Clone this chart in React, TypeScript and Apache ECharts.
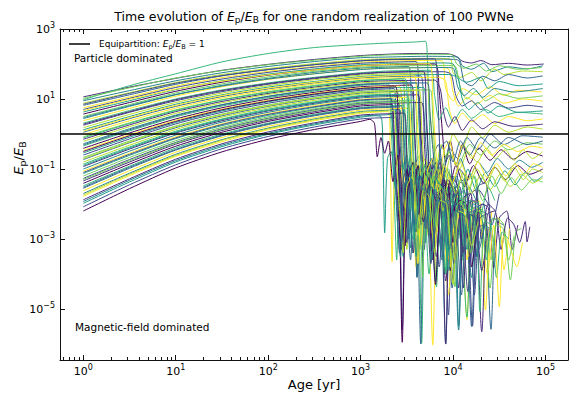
import React, { useEffect, useRef } from "react";
import * as echarts from "echarts";

// All values are log10 values.
// Age grid (log10 yr) shared by the early, smooth part of every track.
const LOG_AGE_GRID = [0, 0.5, 1, 1.5, 2, 2.5, 3];

// log10(Ep/EB) at LOG_AGE_GRID for each PWN
const EARLY_LOG_RATIO = [
  [1.06, 1.34, 1.59, 1.82, 1.99, 2.13, 2.24],
  [0.98, 1.38, 1.72, 2.06, 2.3, 2.47, 2.56],
  [0.95, 1.24, 1.52, 1.75, 1.93, 2.07, 2.18],
  [0.88, 1.18, 1.47, 1.7, 1.87, 2.01, 2.12],
  [0.82, 1.12, 1.42, 1.66, 1.84, 1.98, 2.09],
  [0.75, 1.06, 1.37, 1.61, 1.79, 1.93, 2.05],
  [0.7, 1.02, 1.33, 1.57, 1.76, 1.91, 2.02],
  [0.63, 0.95, 1.27, 1.52, 1.71, 1.86, 1.98],
  [0.57, 0.9, 1.22, 1.48, 1.68, 1.83, 1.95],
  [0.5, 0.84, 1.17, 1.43, 1.63, 1.79, 1.91],
  [0.44, 0.79, 1.12, 1.39, 1.59, 1.76, 1.88],
  [0.38, 0.73, 1.08, 1.35, 1.56, 1.72, 1.85],
  [0.31, 0.67, 1.0, 1.26, 1.46, 1.62, 1.75],
  [0.25, 0.62, 0.95, 1.21, 1.42, 1.58, 1.71],
  [0.18, 0.56, 0.9, 1.17, 1.38, 1.55, 1.68],
  [0.12, 0.5, 0.85, 1.12, 1.34, 1.5, 1.64],
  [0.05, 0.44, 0.79, 1.07, 1.29, 1.46, 1.6],
  [-0.02, 0.38, 0.74, 1.03, 1.25, 1.43, 1.57],
  [-0.08, 0.32, 0.69, 0.98, 1.21, 1.39, 1.53],
  [-0.15, 0.26, 0.64, 0.93, 1.16, 1.34, 1.49],
  [-0.21, 0.21, 0.59, 0.89, 1.13, 1.31, 1.46],
  [-0.28, 0.15, 0.54, 0.84, 1.08, 1.27, 1.42],
  [-0.34, 0.09, 0.49, 0.8, 1.04, 1.23, 1.39],
  [-0.41, 0.03, 0.43, 0.75, 1.0, 1.19, 1.35],
  [-0.47, -0.02, 0.39, 0.71, 0.96, 1.16, 1.32],
  [-0.54, -0.09, 0.33, 0.66, 0.92, 1.12, 1.28],
  [-0.6, -0.14, 0.29, 0.62, 0.88, 1.08, 1.25],
  [-0.67, -0.2, 0.23, 0.57, 0.83, 1.04, 1.21],
  [-0.73, -0.25, 0.18, 0.52, 0.79, 1.0, 1.17],
  [-0.8, -0.32, 0.13, 0.48, 0.75, 0.96, 1.14],
  [-0.86, -0.37, 0.08, 0.43, 0.71, 0.92, 1.1],
  [-0.93, -0.43, 0.03, 0.38, 0.66, 0.88, 1.06],
  [-1.0, -0.49, -0.03, 0.34, 0.62, 0.85, 1.03],
  [-1.06, -0.55, -0.08, 0.29, 0.58, 0.81, 0.99],
  [-1.13, -0.61, -0.13, 0.24, 0.53, 0.76, 0.95],
  [-1.2, -0.67, -0.19, 0.19, 0.49, 0.72, 0.91],
  [-1.27, -0.73, -0.24, 0.15, 0.45, 0.69, 0.88],
  [-1.34, -0.8, -0.29, 0.1, 0.4, 0.64, 0.84],
  [-1.41, -0.86, -0.35, 0.05, 0.36, 0.6, 0.8],
  [-1.48, -0.92, -0.4, 0.0, 0.31, 0.56, 0.76],
  [-1.55, -0.98, -0.46, -0.05, 0.27, 0.52, 0.72],
  [-1.62, -1.05, -0.52, -0.1, 0.22, 0.47, 0.68],
  [-1.7, -1.12, -0.58, -0.16, 0.17, 0.43, 0.64],
  [-1.78, -1.19, -0.64, -0.22, 0.12, 0.38, 0.59],
  [-1.88, -1.28, -0.72, -0.28, 0.06, 0.32, 0.54],
  [-1.98, -1.37, -0.8, -0.36, -0.01, 0.26, 0.48],
  [-2.08, -1.45, -0.88, -0.42, -0.07, 0.2, 0.43],
  [-2.2, -1.56, -0.97, -0.51, -0.15, 0.13, 0.36],
  [1.02, 1.32, 1.6, 1.81, 1.98, 2.11, 2.22],
  [0.85, 1.16, 1.45, 1.67, 1.84, 1.98, 2.09],
  [0.67, 0.99, 1.28, 1.51, 1.69, 1.83, 1.95],
  [0.47, 0.81, 1.13, 1.37, 1.57, 1.72, 1.84],
  [0.28, 0.64, 0.98, 1.24, 1.44, 1.6, 1.73],
  [0.08, 0.47, 0.82, 1.1, 1.31, 1.48, 1.62],
  [-0.11, 0.3, 0.67, 0.97, 1.19, 1.37, 1.52],
  [-0.31, 0.12, 0.52, 0.83, 1.07, 1.26, 1.41],
  [-0.5, -0.05, 0.36, 0.69, 0.94, 1.14, 1.3],
  [-0.7, -0.23, 0.21, 0.55, 0.81, 1.02, 1.19],
  [-0.9, -0.4, 0.05, 0.41, 0.68, 0.9, 1.08],
  [-1.1, -0.58, -0.11, 0.27, 0.56, 0.78, 0.97],
  [-1.3, -0.76, -0.26, 0.13, 0.43, 0.67, 0.86],
  [-1.52, -0.95, -0.44, -0.03, 0.29, 0.54, 0.74],
  [-1.74, -1.15, -0.61, -0.18, 0.15, 0.41, 0.62],
  [-1.93, -1.32, -0.76, -0.32, 0.02, 0.29, 0.51],
];

// late part of each track: [log10 age, log10 ratio]
const LATE_TRACKS = [
  [[3.3,2.28],[3.6,2.3],[3.95,2.29],[4.03,2.22],[4.1,2.08],[4.2,2.03],[4.3,2.1],[4.42,1.98],[4.6,2.02],[4.8,1.97],[4.98,2.0]],
  [[3.3,2.6],[3.6,2.63],[3.7,2.65],[3.72,2.3],[3.74,0.6],[3.76,-1.2],[3.78,-2.6],[3.81,-1.0],[3.86,-0.7],[3.9,-1.9],[3.95,-1.1],[4.02,-1.5],[4.08,-3.0],[4.13,-1.3],[4.22,-1.2],[4.3,-2.3],[4.38,-1.5],[4.45,-1.9]],
  [[3.3,2.2],[3.7,2.22],[4.05,2.2],[4.1,1.95],[4.2,1.85],[4.33,2.02],[4.42,1.78],[4.6,1.92],[4.8,1.86],[4.97,1.95]],
  [[3.3,2.15],[3.8,2.16],[3.97,2.14],[4.0,1.75],[4.08,1.62],[4.2,1.76],[4.3,1.52],[4.45,1.85],[4.55,1.7],[4.75,1.8],[4.97,1.78]],
  [[3.3,2.12],[3.8,2.14],[4.05,2.12],[4.12,1.5],[4.2,1.38],[4.32,1.65],[4.45,1.52],[4.6,1.7],[4.8,1.6],[4.97,1.66]],
  [[3.3,2.08],[3.7,2.1],[3.88,2.09],[3.92,1.3],[4.0,0.95],[4.1,1.3],[4.25,1.12],[4.4,1.35],[4.55,1.1],[4.7,1.25],[4.96,1.2]],
  [[3.3,2.05],[3.6,2.07],[3.63,1.0],[3.66,-1.0],[3.69,-3.3],[3.72,-1.2],[3.77,-0.7],[3.82,-2.6],[3.86,-1.1],[3.93,-1.6],[4.0,-4.2],[4.05,-1.5],[4.12,-1.3],[4.2,-2.8],[4.28,-1.6],[4.4,-2.1]],
  [[3.3,2.01],[3.9,2.03],[4.0,2.0],[4.06,1.6],[4.15,1.48],[4.3,1.62],[4.38,1.3],[4.5,1.5],[4.7,1.38],[4.97,1.43]],
  [[3.3,1.98],[3.8,2.0],[3.85,1.2],[3.88,0.2],[3.92,-0.8],[3.97,-0.2],[4.03,-0.9],[4.1,-0.3],[4.18,-0.85],[4.28,-0.4],[4.4,-0.75],[4.52,-0.45],[4.65,-0.72],[4.8,-0.5],[4.97,-0.63]],
  [[3.3,1.94],[3.9,1.96],[4.02,1.94],[4.08,1.3],[4.15,1.0],[4.25,1.22],[4.35,0.95],[4.5,1.15],[4.7,1.02],[4.97,1.09]],
  [[3.3,1.91],[3.52,1.93],[3.55,0.5],[3.58,-1.5],[3.61,-4.08],[3.64,-1.3],[3.7,-0.85],[3.75,-2.2],[3.8,-1.2],[3.86,-1.4],[3.92,-6.0],[3.97,-1.6],[4.04,-1.2],[4.1,-2.4],[4.17,-1.5],[4.25,-1.9]],
  [[3.3,1.88],[3.85,1.9],[3.95,1.86],[4.0,1.2],[4.06,0.8],[4.15,1.05],[4.25,0.85],[4.4,1.1],[4.55,0.88],[4.75,1.0],[4.97,0.94]],
  [[3.3,1.8],[3.75,1.82],[3.8,1.1],[3.85,0.4],[3.92,0.75],[4.0,0.35],[4.1,0.7],[4.2,0.45],[4.35,0.7],[4.5,0.5],[4.7,0.62],[4.97,0.57]],
  [[3.3,1.76],[3.9,1.78],[3.98,1.7],[4.03,1.1],[4.1,0.8],[4.2,0.95],[4.3,0.7],[4.45,0.9],[4.6,0.74],[4.8,0.82],[4.97,0.77]],
  [[3.3,1.72],[3.7,1.74],[3.74,0.9],[3.78,-0.2],[3.82,-0.9],[3.87,-0.3],[3.93,-0.7],[4.0,0.0],[4.1,-0.4],[4.2,0.2],[4.32,-0.1],[4.45,0.25],[4.6,0.05],[4.8,0.2],[4.97,0.14]],
  [[3.3,1.68],[3.95,1.7],[4.05,1.6],[4.1,1.0],[4.17,0.7],[4.27,0.9],[4.38,0.6],[4.5,0.8],[4.7,0.62],[4.97,0.66]],
  [[3.3,1.64],[3.65,1.66],[3.68,0.8],[3.71,-0.5],[3.75,-1.6],[3.79,-0.6],[3.84,-0.3],[3.9,-1.1],[3.96,-0.4],[4.05,-0.7],[4.15,-0.1],[4.27,-0.45],[4.4,0.0],[4.55,-0.3],[4.75,-0.05],[4.97,-0.09]],
  [[3.3,1.6],[3.85,1.62],[3.92,1.5],[3.96,0.7],[4.02,0.3],[4.1,0.6],[4.2,0.35],[4.32,0.55],[4.45,0.3],[4.6,0.5],[4.8,0.38],[4.97,0.43]],
  [[3.3,1.56],[3.45,1.58],[3.48,0.5],[3.51,-0.8],[3.55,-2.1],[3.59,-0.9],[3.64,-0.6],[3.7,-1.5],[3.77,-0.8],[3.85,-1.2],[3.95,-0.5],[4.05,-0.9],[4.18,-0.3],[4.3,-0.6],[4.45,-0.2],[4.6,-0.45],[4.8,-0.25],[4.97,-0.29]],
  [[3.3,1.52],[3.8,1.54],[3.86,1.3],[3.9,0.6],[3.95,0.2],[4.02,0.5],[4.1,0.1],[4.2,0.4],[4.32,0.15],[4.45,0.35],[4.65,0.22],[4.97,0.28]],
  [[3.3,1.49],[3.5,1.5],[3.53,0.3],[3.56,-1.0],[3.6,-2.8],[3.64,-1.1],[3.7,-0.7],[3.76,-1.8],[3.83,-0.9],[3.9,-1.3],[3.98,-0.6],[4.07,-1.0],[4.16,-0.5],[4.26,-0.8],[4.36,-0.4],[4.46,-0.7],[4.56,-0.45],[4.66,-0.75],[4.76,-0.45],[4.86,-0.7],[4.97,-0.5]],
  [[3.3,1.45],[3.6,1.46],[3.63,0.4],[3.66,-1.2],[3.7,-3.1],[3.74,-1.3],[3.8,-0.9],[3.86,-2.0],[3.93,-1.0],[4.0,-1.4],[4.08,-0.7],[4.17,-1.3],[4.27,-0.8],[4.37,-1.1],[4.48,-0.7],[4.6,-1.0],[4.72,-0.75],[4.85,-0.95],[4.97,-0.81]],
  [[3.2,1.42],[3.3,1.43],[3.33,0.2],[3.36,-1.5],[3.39,-3.6],[3.42,-1.3],[3.47,-0.8],[3.52,-2.3],[3.57,-1.1],[3.62,-1.5],[3.66,-5.98],[3.7,-1.7],[3.76,-1.3],[3.82,-4.37],[3.87,-1.6],[3.94,-1.4],[4.0,-2.9],[4.06,-1.8],[4.12,-2.2]],
  [[3.3,1.38],[3.55,1.4],[3.58,0.3],[3.61,-1.3],[3.65,-2.6],[3.69,-1.2],[3.75,-0.8],[3.81,-2.2],[3.88,-1.1],[3.95,-1.6],[4.03,-0.9],[4.12,-1.5],[4.22,-0.9],[4.33,-1.4],[4.45,-0.95],[4.57,-1.3],[4.7,-0.9],[4.83,-1.15],[4.97,-1.0]],
  [[3.3,1.36],[3.42,1.37],[3.45,0.1],[3.48,-1.4],[3.51,-2.9],[3.55,-1.2],[3.6,-0.8],[3.66,-2.4],[3.72,-1.3],[3.78,-6.03],[3.83,-1.6],[3.9,-1.2],[3.96,-3.0],[4.02,-1.7],[4.08,-2.0],[4.15,-5.3],[4.2,-2.0],[4.28,-1.9],[4.35,-3.4],[4.42,-2.2]],
  [[3.3,1.32],[3.68,1.33],[3.71,0.3],[3.74,-1.0],[3.78,-2.3],[3.82,-1.1],[3.88,-0.9],[3.94,-2.0],[4.01,-1.2],[4.08,-1.7],[4.16,-1.0],[4.25,-1.6],[4.35,-1.1],[4.45,-1.5],[4.56,-1.05],[4.67,-1.45],[4.78,-1.1],[4.88,-1.35],[4.97,-1.2]],
  [[3.3,1.29],[3.36,1.3],[3.39,0.2],[3.42,-1.3],[3.45,-5.6],[3.49,-1.2],[3.54,-0.7],[3.6,-2.0],[3.66,-1.0],[3.72,-1.5],[3.78,-3.1],[3.84,-1.3],[3.9,-1.6],[3.95,-5.17],[4.0,-1.9],[4.07,-1.5],[4.13,-2.7],[4.2,-1.8]],
  [[3.3,1.25],[3.75,1.26],[3.78,0.4],[3.81,-0.9],[3.85,-2.5],[3.89,-1.0],[3.95,-1.0],[4.01,-2.2],[4.08,-1.3],[4.15,-1.8],[4.23,-1.2],[4.32,-1.9],[4.42,-1.2],[4.52,-1.7],[4.63,-1.25],[4.74,-1.6],[4.86,-1.3],[4.97,-1.37]],
  [[3.3,1.21],[3.55,1.23],[3.58,0.0],[3.61,-1.6],[3.65,-6.0],[3.69,-1.4],[3.75,-1.0],[3.81,-2.5],[3.87,-1.3],[3.93,-1.8],[3.99,-4.4],[4.05,-1.9],[4.12,-1.6],[4.2,-5.5],[4.26,-2.1],[4.33,-2.0],[4.41,-5.58],[4.47,-2.5],[4.55,-2.6]],
  [[3.3,1.18],[3.4,1.2],[3.43,0.0],[3.46,-1.3],[3.5,-3.3],[3.54,-1.2],[3.6,-0.9],[3.66,-2.1],[3.73,-1.1],[3.8,-1.6],[3.88,-0.9],[3.97,-1.5],[4.06,-1.0],[4.16,-1.6],[4.26,-1.0],[4.36,-1.4],[4.46,-0.95],[4.56,-1.35],[4.66,-0.95],[4.76,-1.3],[4.86,-1.0],[4.97,-1.1]],
  [[3.3,1.14],[3.32,1.15],[3.35,0.0],[3.38,-1.4],[3.41,-3.0],[3.45,-1.1],[3.5,-0.6],[3.56,-2.2],[3.62,-1.0],[3.68,-1.4],[3.74,-4.0],[3.8,-1.5],[3.87,-1.2],[3.93,-3.4],[4.0,-1.7],[4.07,-2.0],[4.15,-5.23],[4.21,-2.3],[4.3,-2.1]],
  [[3.3,1.1],[3.62,1.12],[3.65,0.1],[3.68,-1.2],[3.72,-2.7],[3.76,-1.1],[3.82,-0.8],[3.88,-2.3],[3.94,-1.3],[4.0,-1.6],[4.06,-4.4],[4.12,-1.8],[4.19,-1.7],[4.25,-3.5],[4.31,-2.0],[4.38,-2.1],[4.44,-3.82],[4.5,-2.4],[4.58,-2.2],[4.64,-3.3],[4.7,-2.6]],
  [[3.3,1.07],[3.44,1.08],[3.47,-0.1],[3.5,-1.5],[3.54,-3.25],[3.58,-1.2],[3.63,-0.9],[3.69,-2.3],[3.75,-1.2],[3.82,-1.5],[3.88,-3.6],[3.94,-1.6],[4.01,-1.5],[4.06,-5.49],[4.11,-2.0],[4.18,-1.9],[4.24,-3.2],[4.3,-2.2],[4.38,-2.3]],
  [[3.3,1.03],[3.5,1.05],[3.53,-0.2],[3.56,-1.6],[3.6,-3.8],[3.64,-1.3],[3.7,-0.9],[3.76,-2.7],[3.82,-1.4],[3.88,-1.7],[3.95,-4.6],[4.01,-1.9],[4.08,-1.7],[4.15,-3.6],[4.22,-2.1],[4.29,-2.2],[4.35,-5.03],[4.41,-2.5],[4.49,-2.4],[4.55,-3.88],[4.61,-2.7]],
  [[3.3,0.99],[3.36,1.0],[3.39,-0.3],[3.42,-1.7],[3.46,-3.5],[3.5,-1.3],[3.56,-0.8],[3.62,-2.4],[3.68,-1.1],[3.74,-1.4],[3.81,-4.2],[3.87,-1.6],[3.93,-1.5],[4.0,-3.0],[4.06,-1.8],[4.13,-2.0],[4.2,-4.1],[4.27,-2.2],[4.34,-2.4]],
  [[3.3,0.95],[3.58,0.97],[3.61,-0.3],[3.64,-1.7],[3.67,-4.08],[3.71,-1.4],[3.77,-1.0],[3.83,-2.6],[3.89,-1.5],[3.96,-1.8],[4.02,-4.37],[4.08,-2.0],[4.15,-1.8],[4.22,-3.3],[4.28,-2.1],[4.35,-2.3],[4.41,-3.6],[4.48,-2.4],[4.55,-2.6],[4.62,-4.17],[4.68,-2.8],[4.74,-2.7]],
  [[3.3,0.92],[3.4,0.93],[3.43,-0.4],[3.46,-1.8],[3.5,-3.1],[3.54,-1.3],[3.6,-1.0],[3.66,-2.6],[3.72,-1.4],[3.79,-1.7],[3.85,-3.8],[3.91,-1.8],[3.98,-1.7],[4.04,-3.2],[4.1,-2.0],[4.17,-2.2],[4.23,-4.6],[4.29,-2.4],[4.36,-2.3]],
  [[3.3,0.88],[3.66,0.9],[3.69,-0.3],[3.72,-1.6],[3.76,-3.0],[3.8,-1.4],[3.86,-1.1],[3.92,-6.0],[3.97,-1.7],[4.04,-1.5],[4.1,-3.5],[4.16,-2.0],[4.23,-1.9],[4.31,-5.65],[4.37,-2.3],[4.45,-2.2],[4.52,-3.3],[4.59,-2.4],[4.66,-2.6],[4.72,-3.1],[4.78,-2.5],[4.8,-3.08],[4.83,-2.65]],
  [[3.3,0.84],[3.34,0.85],[3.37,-0.5],[3.4,-1.9],[3.44,-3.3],[3.48,-1.4],[3.54,-1.1],[3.6,-2.8],[3.66,-1.3],[3.72,-1.6],[3.78,-3.6],[3.84,-1.7],[3.91,-1.9],[3.97,-3.9],[4.03,-2.0],[4.1,-2.1],[4.17,-3.0],[4.24,-2.3]],
  [[3.3,0.8],[3.46,0.82],[3.49,-0.5],[3.52,-1.8],[3.56,-3.4],[3.6,-1.4],[3.66,-1.1],[3.72,-2.5],[3.78,-1.5],[3.85,-1.8],[3.91,-4.0],[3.97,-2.0],[4.04,-1.9],[4.1,-3.6],[4.17,-2.2],[4.24,-2.1],[4.29,-5.07],[4.34,-2.5],[4.41,-2.6],[4.47,-4.1],[4.53,-2.8],[4.6,-3.0]],
  [[3.3,0.76],[3.38,0.77],[3.41,-0.6],[3.44,-2.0],[3.47,-3.25],[3.51,-1.5],[3.57,-1.2],[3.61,-4.1],[3.66,-1.7],[3.73,-1.5],[3.79,-3.0],[3.85,-1.9],[3.92,-2.0],[3.98,-3.4],[4.04,-2.2],[4.12,-2.3]],
  [[3.3,0.72],[3.52,0.74],[3.55,-0.6],[3.58,-2.0],[3.62,-3.7],[3.66,-1.6],[3.72,-1.2],[3.78,-2.9],[3.84,-1.6],[3.9,-1.9],[3.97,-3.8],[4.03,-2.1],[4.1,-2.0],[4.17,-3.5],[4.23,-2.3],[4.3,-2.4],[4.37,-4.0],[4.44,-2.6],[4.5,-4.94],[4.55,-2.9],[4.6,-3.1],[4.69,-3.79],[4.75,-3.1]],
  [[3.3,0.68],[3.42,0.7],[3.45,-0.7],[3.48,-2.0],[3.52,-3.0],[3.56,-1.5],[3.62,-1.2],[3.68,-2.6],[3.74,-1.5],[3.8,-1.8],[3.87,-3.3],[3.93,-2.0],[4.0,-2.1],[4.06,-5.6],[4.12,-2.4],[4.2,-2.3],[4.26,-3.5],[4.33,-2.6],[4.4,-2.7]],
  [[3.2,0.63],[3.3,0.64],[3.32,-0.5],[3.34,-3.65],[3.37,-1.0],[3.42,-0.7],[3.48,-2.1],[3.54,-1.2],[3.6,-1.5],[3.65,-3.2],[3.71,-1.5],[3.77,-1.4],[3.83,-2.8],[3.89,-1.7],[3.96,-1.9],[4.02,-3.6],[4.08,-2.1],[4.15,-2.2]],
  [[3.3,0.58],[3.47,0.6],[3.5,-0.7],[3.53,-2.1],[3.57,-3.4],[3.61,-1.6],[3.67,-1.3],[3.73,-2.8],[3.79,-1.6],[3.86,-1.9],[3.92,-4.2],[3.98,-2.1],[4.05,-2.0],[4.11,-3.4],[4.18,-2.3],[4.24,-2.4],[4.31,-3.9],[4.38,-2.7]],
  [[3.15,0.52],[3.22,0.5],[3.24,-0.3],[3.26,-2.82],[3.29,-0.7],[3.33,-0.5],[3.38,-1.6],[3.44,-0.9],[3.5,-1.2],[3.56,-3.0],[3.62,-1.4],[3.68,-1.3],[3.74,-2.7],[3.8,-1.6],[3.87,-1.8],[3.94,-3.5],[4.0,-2.0],[4.07,-2.1]],
  [[3.3,0.47],[3.38,0.48],[3.41,-0.8],[3.44,-2.2],[3.47,-3.25],[3.51,-1.6],[3.57,-1.3],[3.63,-2.7],[3.69,-1.6],[3.76,-1.9],[3.82,-3.5],[3.88,-2.0],[3.95,-2.1],[4.01,-3.7],[4.08,-2.3],[4.15,-2.4],[4.21,-5.49],[4.26,-2.7],[4.33,-2.6]],
  [[3.1,0.42],[3.15,0.3],[3.18,-0.65],[3.22,-0.1],[3.26,-0.55],[3.3,-0.2],[3.35,-1.36],[3.4,-0.6],[3.45,-5.95],[3.5,-1.0],[3.56,-1.8],[3.62,-0.9],[3.68,-2.5],[3.75,-1.4],[3.82,-1.9],[3.9,-1.3],[3.97,-2.4],[4.05,-1.6]],
  [[3.3,2.26],[3.7,2.28],[3.98,2.27],[4.04,2.0],[4.12,1.88],[4.25,2.0],[4.36,1.8],[4.5,1.95],[4.7,1.85],[4.96,1.9]],
  [[3.3,2.13],[3.8,2.15],[3.83,1.4],[3.85,0.0],[3.88,-2.2],[3.91,-0.9],[3.96,-0.6],[4.01,-1.8],[4.07,-1.0],[4.14,-1.3],[4.2,-3.4],[4.27,-1.5],[4.35,-1.4],[4.42,-2.6],[4.5,-1.7]],
  [[3.3,1.99],[3.75,2.01],[3.78,1.0],[3.81,-0.3],[3.85,-1.4],[3.9,-0.5],[3.96,-0.2],[4.03,-0.9],[4.11,-0.3],[4.2,-0.7],[4.3,-0.25],[4.42,-0.6],[4.55,-0.3],[4.7,-0.5],[4.85,-0.35],[4.97,-0.4]],
  [[3.3,1.88],[3.9,1.9],[4.0,1.88],[4.05,1.35],[4.12,1.1],[4.22,1.3],[4.32,1.05],[4.45,1.3],[4.65,1.2],[4.97,1.3]],
  [[3.3,1.77],[3.68,1.79],[3.71,0.6],[3.74,-1.0],[3.77,-3.3],[3.81,-1.2],[3.86,-0.8],[3.92,-2.4],[3.98,-1.2],[4.05,-1.5],[4.11,-4.4],[4.17,-1.8],[4.24,-1.6],[4.31,-3.0],[4.38,-2.0],[4.46,-2.2]],
  [[3.3,1.66],[3.58,1.68],[3.61,0.5],[3.64,-0.9],[3.68,-2.4],[3.72,-1.1],[3.78,-0.7],[3.84,-1.7],[3.91,-0.9],[3.99,-1.4],[4.08,-0.8],[4.17,-1.3],[4.27,-0.8],[4.37,-1.25],[4.47,-0.85],[4.57,-1.2],[4.67,-0.85],[4.77,-1.15],[4.87,-0.85],[4.97,-0.95]],
  [[3.3,1.56],[3.48,1.58],[3.51,0.2],[3.54,-1.3],[3.58,-3.0],[3.62,-1.2],[3.67,-0.8],[3.73,-2.5],[3.79,-1.2],[3.86,-1.5],[3.92,-4.0],[3.98,-1.7],[4.05,-1.5],[4.12,-3.2],[4.19,-1.9],[4.27,-2.0]],
  [[3.3,1.45],[3.72,1.46],[3.75,0.6],[3.78,-0.4],[3.82,-1.3],[3.87,-0.4],[3.93,-0.2],[4.0,-0.8],[4.08,-0.2],[4.18,-0.6],[4.3,-0.1],[4.45,-0.4],[4.6,-0.1],[4.8,-0.3],[4.97,-0.2]],
  [[3.3,1.34],[3.38,1.35],[3.41,0.0],[3.44,-1.5],[3.48,-3.2],[3.52,-1.2],[3.57,-0.8],[3.63,-2.3],[3.69,-1.1],[3.75,-1.4],[3.81,-4.3],[3.87,-1.6],[3.94,-1.4],[4.0,-3.1],[4.07,-1.9],[4.14,-2.0],[4.2,-3.8],[4.27,-2.2]],
  [[3.3,1.23],[3.63,1.25],[3.66,0.2],[3.69,-1.2],[3.73,-2.9],[3.77,-1.3],[3.83,-1.0],[3.89,-2.2],[3.96,-1.2],[4.03,-1.7],[4.11,-1.1],[4.2,-1.7],[4.3,-1.15],[4.4,-1.6],[4.51,-1.15],[4.62,-1.5],[4.74,-1.15],[4.86,-1.4],[4.97,-1.25]],
  [[3.3,1.12],[3.5,1.14],[3.53,-0.1],[3.56,-1.6],[3.6,-3.5],[3.64,-1.3],[3.7,-0.9],[3.76,-2.5],[3.82,-1.3],[3.89,-1.6],[3.95,-3.9],[4.01,-1.8],[4.08,-1.7],[4.15,-3.3],[4.22,-2.0],[4.3,-2.2],[4.36,-3.6],[4.43,-2.4],[4.5,-2.5]],
  [[3.3,1.01],[3.33,1.02],[3.36,-0.3],[3.39,-1.8],[3.42,-3.4],[3.46,-1.3],[3.52,-0.9],[3.58,-2.6],[3.64,-1.2],[3.7,-1.5],[3.76,-3.7],[3.82,-1.7],[3.89,-1.6],[3.95,-3.2],[4.02,-2.0],[4.09,-2.1],[4.16,-4.5],[4.23,-2.3],[4.3,-2.4]],
  [[3.3,0.9],[3.54,0.92],[3.57,-0.4],[3.6,-1.9],[3.64,-3.3],[3.68,-1.5],[3.74,-1.1],[3.8,-2.7],[3.86,-1.5],[3.93,-1.8],[3.99,-3.6],[4.05,-2.0],[4.12,-1.9],[4.19,-3.4],[4.26,-2.2],[4.33,-2.3],[4.4,-4.4],[4.47,-2.6],[4.54,-2.7],[4.6,-3.6],[4.66,-2.9]],
  [[3.3,0.78],[3.44,0.8],[3.47,-0.6],[3.5,-2.0],[3.54,-3.6],[3.58,-1.5],[3.64,-1.2],[3.7,-2.7],[3.76,-1.5],[3.82,-1.8],[3.89,-3.5],[3.95,-1.9],[4.02,-2.0],[4.09,-4.6],[4.15,-2.3],[4.22,-2.2],[4.28,-3.3],[4.35,-2.5]],
  [[3.3,0.66],[3.36,0.67],[3.39,-0.7],[3.42,-2.1],[3.46,-3.4],[3.5,-1.5],[3.56,-1.2],[3.62,-2.9],[3.68,-1.6],[3.74,-1.8],[3.8,-3.4],[3.86,-1.9],[3.93,-2.0],[4.0,-4.3],[4.06,-2.2],[4.13,-2.3],[4.2,-3.2],[4.27,-2.5]],
  [[3.28,0.55],[3.33,0.56],[3.36,-0.7],[3.39,-2.2],[3.43,-3.5],[3.47,-1.5],[3.53,-1.2],[3.59,-2.8],[3.65,-1.5],[3.71,-1.7],[3.77,-3.6],[3.83,-1.9],[3.9,-2.0],[3.96,-3.3],[4.03,-2.2],[4.1,-2.3]],
];

const EQUIPARTITION_LOG_RATIO = 0; // Ep/EB = 1
const X_MIN = -0.252;
const X_MAX = 5.243;
const Y_MIN = -6.456;
const Y_MAX = 3.0;
const X_MAJOR_TICKS = [0, 1, 2, 3, 4, 5];
const Y_MAJOR_TICKS = [-5, -3, -1, 1, 3];

// style
const VIRIDIS = ["#440154", "#482878", "#3e4989", "#31688e", "#26828e", "#1f9e89", "#35b779", "#6ece58", "#b5de2b", "#fde725"];
const COLOR_ORDER = [1, 6, 4, 8, 3, 9, 2, 5, 0, 7, 4, 9, 6, 2, 8, 5, 3, 9, 7, 1, 8, 4, 6, 0, 9, 5, 2, 7, 3, 8, 6, 1, 4, 9, 5, 7, 2, 1, 0, 6, 3, 9, 4, 9, 1, 5, 2, 0,
  7, 2, 9, 4, 1, 9, 6, 3, 0, 8, 5, 2, 7, 3, 8, 4];
const FONT = "DejaVu Sans";
const AXIS_COLOR = "#111";
const MAJOR_LEN = 5;
const MINOR_LEN = 3;

const minorTicks: number[] = [];
for (let d = -1; d <= 5; d++) {
  for (let k = 2; k <= 9; k++) {
    const v = d + Math.log10(k);
    if (v > X_MIN && v < X_MAX) minorTicks.push(v);
  }
}

const supLabel = (v: number) => {
  const n = Math.round(v);
  const s = n < 0 ? "\u2212" + -n : String(n);
  return `{b|10}{s|${s}}`;
};

const tickRich = {
  b: { fontSize: 11, fontFamily: FONT, color: "#000", lineHeight: 16 },
  s: { fontSize: 8, fontFamily: FONT, color: "#000", verticalAlign: "top" as const, lineHeight: 16 },
};

function buildOption() {
  const lines = EARLY_LOG_RATIO.map((early, i) => ({
    type: "line",
    data: [...LOG_AGE_GRID.map((x, j) => [x, early[j]]), ...LATE_TRACKS[i]],
    showSymbol: false,
    symbol: "none",
    silent: true,
    smooth: 0.25,
    z: 2,
    lineStyle: { width: 1, color: VIRIDIS[COLOR_ORDER[i]] },
  }));

  const equi = {
    type: "line",
    data: [],
    silent: true,
    z: 6,
    markLine: {
      silent: true,
      symbol: ["none", "none"],
      label: { show: false },
      lineStyle: { color: "#000", width: 1.5, type: "solid" },
      data: [{ yAxis: EQUIPARTITION_LOG_RATIO }],
    },
  };

  const axisLine = { show: true, onZero: false, lineStyle: { color: AXIS_COLOR, width: 1 } };
  const majorTick = { show: true, inside: true, length: MAJOR_LEN, lineStyle: { color: AXIS_COLOR, width: 1 } };
  const minorTick = { show: true, inside: true, length: MINOR_LEN, lineStyle: { color: AXIS_COLOR, width: 1 } };
  const noLine = { show: false, onZero: false };
  const box = { left: 60, right: 1, top: 29, bottom: 34, containLabel: false };

  return {
    animation: false,
    backgroundColor: "#fff",
    grid: [box, { ...box }],
    xAxis: [
      {
        gridIndex: 0, type: "value", position: "bottom", min: X_MIN, max: X_MAX,
        axisLine, splitLine: { show: false },
        axisTick: { ...majorTick, customValues: X_MAJOR_TICKS },
        axisLabel: { show: true, margin: 3, customValues: X_MAJOR_TICKS, formatter: supLabel, rich: tickRich },
      },
      {
        gridIndex: 0, type: "value", position: "top", min: X_MIN, max: X_MAX,
        axisLine, splitLine: { show: false },
        axisTick: { ...majorTick, customValues: X_MAJOR_TICKS },
        axisLabel: { show: false },
      },
      {
        gridIndex: 1, type: "value", position: "bottom", min: X_MIN, max: X_MAX,
        axisLine: noLine, splitLine: { show: false },
        axisTick: { ...minorTick, customValues: minorTicks },
        axisLabel: { show: false },
      },
      {
        gridIndex: 1, type: "value", position: "top", min: X_MIN, max: X_MAX,
        axisLine: noLine, splitLine: { show: false },
        axisTick: { ...minorTick, customValues: minorTicks },
        axisLabel: { show: false },
      },
    ],
    yAxis: [
      {
        gridIndex: 0, type: "value", position: "left", min: Y_MIN, max: Y_MAX,
        axisLine, splitLine: { show: false },
        axisTick: { ...majorTick, customValues: Y_MAJOR_TICKS },
        axisLabel: { show: true, margin: 5, customValues: Y_MAJOR_TICKS, formatter: supLabel, rich: tickRich },
      },
      {
        gridIndex: 0, type: "value", position: "right", min: Y_MIN, max: Y_MAX,
        axisLine, splitLine: { show: false },
        axisTick: { ...majorTick, customValues: Y_MAJOR_TICKS },
        axisLabel: { show: false },
      },
      {
        gridIndex: 1, type: "value", min: Y_MIN, max: Y_MAX,
        axisLine: noLine, axisTick: { show: false }, axisLabel: { show: false }, splitLine: { show: false },
      },
    ],
    graphic: [
      {
        type: "text", x: 314, y: 16, silent: true,
        style: {
          text: "{n|Time evolution of }{i|E}{sub|p}{n|/}{i|E}{sub|B}{n| for one random realization of 100 PWNe}",
          align: "center", verticalAlign: "middle",
          rich: {
            n: { fontSize: 12.5, fontFamily: FONT, fill: "#000", lineHeight: 17 },
            i: { fontSize: 12.5, fontFamily: FONT, fontStyle: "italic", fill: "#000", lineHeight: 17 },
            sub: { fontSize: 9, fontFamily: FONT, fill: "#000", verticalAlign: "bottom", lineHeight: 17 },
          },
        },
      },
      {
        type: "text", x: 18, y: 158, rotation: Math.PI / 2, silent: true,
        style: {
          text: "{i|E}{sub|p}{n|/}{i|E}{sub|B}",
          align: "center", verticalAlign: "middle",
          rich: {
            n: { fontSize: 13, fontFamily: FONT, fill: "#000", lineHeight: 18 },
            i: { fontSize: 13, fontFamily: FONT, fontStyle: "italic", fill: "#000", lineHeight: 18 },
            sub: { fontSize: 9.5, fontFamily: FONT, fill: "#000", verticalAlign: "bottom", lineHeight: 18 },
          },
        },
      },
      {
        type: "text", x: 314, y: 384, silent: true,
        style: { text: "Age [yr]", fontSize: 13, fontFamily: FONT, fill: "#000", align: "center", verticalAlign: "middle" },
      },
      {
        type: "line", silent: true,
        shape: { x1: 69, y1: 44, x2: 90, y2: 44 },
        style: { stroke: "#000", lineWidth: 1.5 },
      },
      {
        type: "text", x: 99, y: 44, silent: true,
        style: {
          text: "{n|Equipartition: }{i|E}{sub|p}{n|/}{i|E}{sub|B}{n| = 1}",
          align: "left", verticalAlign: "middle",
          rich: {
            n: { fontSize: 9, fontFamily: FONT, fill: "#000", lineHeight: 13 },
            i: { fontSize: 9, fontFamily: FONT, fontStyle: "italic", fill: "#000", lineHeight: 13 },
            sub: { fontSize: 6.5, fontFamily: FONT, fill: "#000", verticalAlign: "bottom", lineHeight: 13 },
          },
        },
      },
      {
        type: "text", x: 74, y: 58, silent: true,
        style: { text: "Particle dominated", fontSize: 10.5, fontFamily: FONT, fill: "#000", align: "left", verticalAlign: "middle" },
      },
      {
        type: "text", x: 75, y: 327, silent: true,
        style: { text: "Magnetic-field dominated", fontSize: 10.5, fontFamily: FONT, fill: "#000", align: "left", verticalAlign: "middle" },
      },
    ],
    series: [...lines, equi],
  };
}

export default function App() {
  const ref = useRef<HTMLDivElement>(null);
  useEffect(() => {
    if (!ref.current) return;
    const chart = echarts.init(ref.current, undefined, { renderer: "svg" });
    chart.setOption(buildOption() as any);
    return () => chart.dispose();
  }, []);
  return (
    <div
      ref={ref}
      style={{ position: "absolute", left: 0, top: 0, width: 569, height: 394, background: "#fff" }}
    />
  );
}
